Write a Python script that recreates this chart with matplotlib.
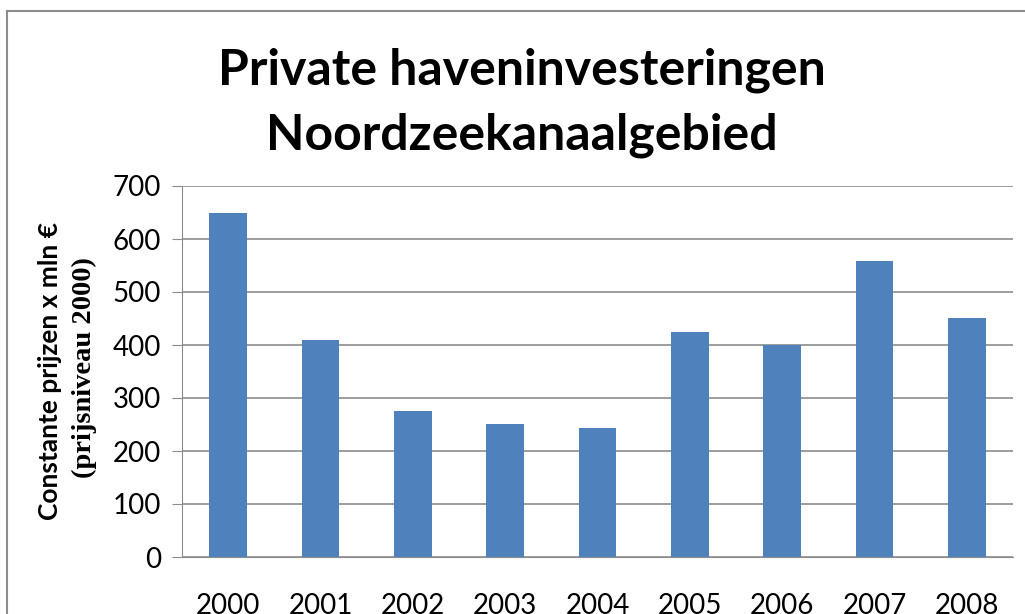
import matplotlib.pyplot as plt
import numpy as np

years = ["2000", "2001", "2002", "2003", "2004", "2005", "2006", "2007", "2008"]
investments = [650, 410, 275, 251, 243, 425, 400, 558, 451]
yticks = [0, 100, 200, 300, 400, 500, 600, 700]

W, H = 1025, 614
fig = plt.figure(figsize=(W / 100, H / 100), dpi=100)
ax = fig.add_axes([182 / W, 1 - 557 / H, (1013 - 182) / W, (557 - 186) / H])

x = np.arange(len(years))
ax.bar(x, investments, width=0.41, color="#4F81BD", zorder=3)

ax.set_xlim(-0.5, len(years) - 0.5)
ax.set_ylim(0, 700)
ax.set_yticks(yticks)
ax.set_xticks(x)
ax.set_xticklabels(years)
ax.yaxis.grid(True, color="#8c8c8c", linewidth=1.2, zorder=0)

for side in ["top", "right"]:
    ax.spines[side].set_visible(False)
ax.spines["left"].set_color("#8c8c8c")
ax.spines["bottom"].set_color("#8c8c8c")
ax.tick_params(axis="y", length=7, color="#8c8c8c", labelsize=20, pad=8)
ax.tick_params(axis="x", length=0, labelsize=20, pad=26)
for lbl in ax.get_xticklabels() + ax.get_yticklabels():
    lbl.set_family(["Lato", "DejaVu Sans"])

fig.text(522 / W, 1 - 70 / H, "Private haveninvesteringen", ha="center", va="center",
         fontsize=36, fontweight="bold", family=["Lato", "DejaVu Sans"])
fig.text(522 / W, 1 - 135 / H, "Noordzeekanaalgebied", ha="center", va="center",
         fontsize=36, fontweight="bold", family=["Lato", "DejaVu Sans"])

fig.text(50 / W, 1 - 371 / H, "Constante prijzen x mln €", rotation=90, ha="center",
         va="center", fontsize=19, fontweight="bold", family=["Lato", "DejaVu Sans"])
fig.text(84 / W, 1 - 368 / H, "(prijsniveau 2000)", rotation=90, ha="center",
         va="center", fontsize=20.5, fontweight="bold", family=["Liberation Serif", "DejaVu Serif"])

# chart border
fig.add_artist(plt.Line2D([7 / W, 7 / W], [0, 1 - 11 / H], transform=fig.transFigure,
                          color="#8c8c8c", linewidth=1.5))
fig.add_artist(plt.Line2D([7 / W, 1], [1 - 11 / H, 1 - 11 / H], transform=fig.transFigure,
                          color="#8c8c8c", linewidth=1.5))

fig.savefig("out.png", dpi=100)
